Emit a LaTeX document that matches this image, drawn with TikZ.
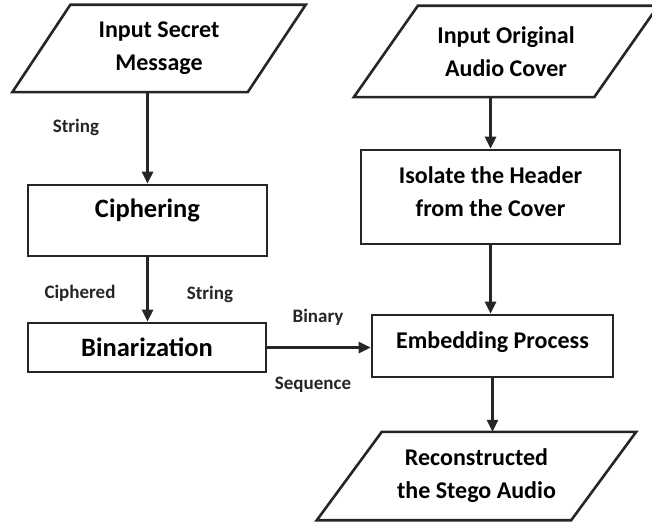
\documentclass[tikz,border=0pt]{standalone}
\usepackage{fontspec}
\setmainfont{Carlito}
\usetikzlibrary{arrows.meta,calc}
\begin{document}
\begin{tikzpicture}[x=1pt,y=-1pt,
  line/.style={line width=2.6pt, draw=black!85},
  box/.style={line, inner sep=0pt, align=center, font=\bfseries\fontsize{24}{33}\selectfont},
  bigtext/.style={inner sep=0pt, align=center, font=\bfseries\fontsize{26.5}{33}\selectfont},
  bigbox/.style={box, font=\bfseries\fontsize{26.5}{33}\selectfont},
  parbox/.style={inner sep=0pt, align=center, font=\bfseries\fontsize{24}{33}\selectfont},
  lab/.style={font=\bfseries\fontsize{19}{22}\selectfont, inner sep=0pt, text=black!85},
  arr/.style={line, -{Triangle[length=12pt,width=11pt]}}]
\useasboundingbox (0,0) rectangle (652,524);
\fill[white] (0,0) rectangle (652,524);

% parallelogram nodes (midline width, height)
\node[parbox, minimum width=235pt, minimum height=87pt] (in1) at (159,48.5) {Input Secret\\Message};
\node[parbox, minimum width=240pt, minimum height=91pt] (in2) at (506,51.5) {Input Original\\Audio Cover};
\node[parbox, minimum width=254pt, minimum height=88pt] (out) at (476.5,476) {Reconstructed\\the Stego Audio};

\draw[line] ([xshift=-29pt]in1.south west) -- ([xshift=-29pt]in1.south east) -- ([xshift=29pt]in1.north east) -- ([xshift=29pt]in1.north west) -- cycle;
\draw[line] ([xshift=-32pt]in2.south west) -- ([xshift=-32pt]in2.south east) -- ([xshift=32pt]in2.north east) -- ([xshift=32pt]in2.north west) -- cycle;
\draw[line] ([xshift=-32.5pt]out.south west) -- ([xshift=-32.5pt]out.south east) -- ([xshift=32.5pt]out.north east) -- ([xshift=32.5pt]out.north west) -- cycle;

% process boxes
\node[box, minimum width=239pt, minimum height=71pt] (ciph) at (147.5,220.5) {};
\node[bigtext] (ciphtxt) at ([yshift=10pt]ciph.center) {Ciphering};
\node[bigbox, minimum width=238pt, minimum height=49pt] (bin) at (147,347.5) {Binarization};
\node[box, minimum width=259pt, minimum height=94pt] (iso) at (490.5,197) {};
\node[box, draw=none, inner sep=0pt] (isotxt) at ([yshift=5pt]iso.center) {Isolate the Header\\from the Cover};
\node[box, minimum width=241pt, minimum height=62pt] (emb) at (492.5,346) {};
\node[box, draw=none] (embtxt) at ([yshift=4pt]emb.center) {Embedding Process};

% connectors
\draw[arr] (in1.south -| ciph.north) -- (ciph.north);
\draw[arr] (ciph.south) -- (ciph.south |- bin.north);
\draw[arr] (bin.east) -- (bin.east -| emb.west);
\draw[arr] (iso.north |- in2.south) -- (iso.north);
\draw[arr] (iso.south) -- (iso.south |- emb.north);
\draw[arr] (emb.south) -- (emb.south |- out.north);

% labels
\node[lab] (l1) at (76,127) {String};
\node[lab] (l2) at (80,293) {Ciphered};
\node[lab] (l3) at (210,294) {String};
\node[lab] (l4) at (318,317) {Binary};
\node[lab] (l5) at (313,385) {Sequence};
\end{tikzpicture}
\end{document}
